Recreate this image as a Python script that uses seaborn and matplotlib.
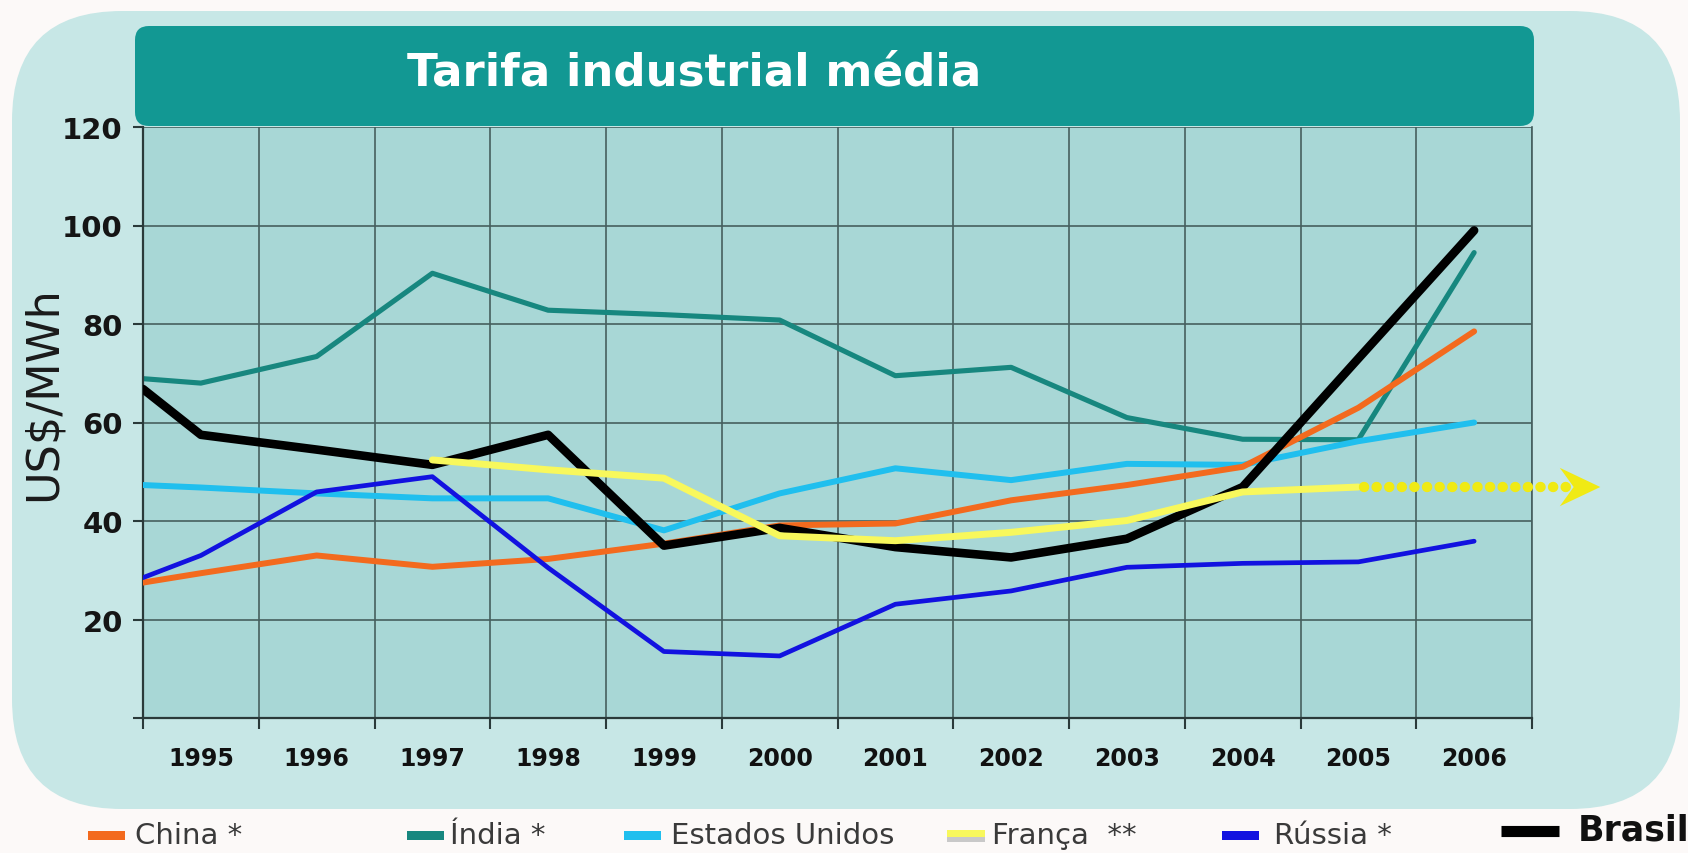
import numpy as np
import pandas as pd
import matplotlib
matplotlib.use("Agg")
import matplotlib.pyplot as plt
import seaborn as sns
from matplotlib.patches import FancyBboxPatch, Rectangle, Polygon

# ---------------- data ----------------
years = ["1995", "1996", "1997", "1998", "1999", "2000",
         "2001", "2002", "2003", "2004", "2005", "2006"]
# first value of each series = value at the left edge of the axis
china  = [27.5, 29.4, 33.0, 30.7, 32.3, 35.4, 39.1, 39.5, 44.2, 47.3, 51.0, 63.0, 78.5]
india  = [68.9, 68.0, 73.4, 90.3, 82.8, 81.9, 80.8, 69.5, 71.2, 61.0, 56.6, 56.5, 94.5]
eua    = [47.3, 46.8, 45.6, 44.6, 44.6, 38.1, 45.6, 50.7, 48.3, 51.6, 51.4, 56.2, 60.0]
franca = [np.nan, np.nan, np.nan, 52.4, 50.4, 48.7, 37.0, 36.0, 37.7, 40.1, 45.9, 46.9, np.nan]
russia = [28.5, 33.0, 45.9, 49.0, 30.5, 13.5, 12.6, 23.1, 25.8, 30.6, 31.4, 31.7, 35.9]
brasil = [66.8, 57.5, 54.5, 51.4, 57.5, 35.0, 38.6, 34.7, 32.6, 36.4, 46.9, 73.0, 99.0]

labels = ["China *", "Índia *", "Estados Unidos", "França  **", "Rússia *", "Brasil"]
yticks = [0, 20, 40, 60, 80, 100, 120]

# ---------------- styling ----------------
W, H = 1688, 854
sns.set_theme(style="white")
plt.rcParams["font.family"] = ["DejaVu Sans"]

fig = plt.figure(figsize=(W / 100, H / 100), dpi=100)
fig.patch.set_facecolor("#fcf9f8")

# background canvas in pixel coordinates
bg = fig.add_axes([0, 0, 1, 1], zorder=0)
bg.set_xlim(0, W)
bg.set_ylim(H, 0)
bg.axis("off")
bg.add_patch(FancyBboxPatch((12, 12), 1668, 798,
                            boxstyle="round,pad=0,rounding_size=110",
                            fc="#c7e7e6", ec="none"))
# title bar
bg.add_patch(FancyBboxPatch((135, 27), 1399, 100,
                            boxstyle="round,pad=0,rounding_size=14",
                            fc="#129893", ec="none"))
bg.text(407, 73, "Tarifa industrial média", color="white", fontsize=32.5,
        fontweight="bold", ha="left", va="center")

# main axes
left, right, top, bottom = 143, 1532, 128, 719
ax = fig.add_axes([left / W, 1 - bottom / H, (right - left) / W, (bottom - top) / H], zorder=2)
ax.set_facecolor("#a8d7d6")

x = np.concatenate([[-0.5], np.arange(len(years))])

series = [
    (india,  "#17877f", 3.7, 2),
    (eua,    "#20bfee", 4.3, 3),
    (china,  "#f36a1e", 4.3, 4),
    (russia, "#1212e0", 3.4, 5),
    (brasil, "#000000", 6.2, 6),
    (franca, "#f8f85c", 5.0, 7),
]
for vals, col, lw, z in series:
    df = pd.DataFrame({"x": x, "valor": vals}).dropna()
    sns.lineplot(data=df, x="x", y="valor", ax=ax, color=col, lw=lw,
                 estimator=None, sort=False, zorder=z)

# dotted continuation arrow for França
last_fr = pd.Series(franca).dropna()
x0 = x[last_fr.index[-1]]
yfr = last_fr.iloc[-1]
ax.plot([x0 + 0.05, 11.8], [yfr, yfr], color="#f0ea14", lw=7.5,
        linestyle=(0, (0.01, 1.2)), dash_capstyle="round",
        clip_on=False, zorder=8)
ax.add_patch(Polygon([[12.09, yfr], [11.74, yfr + 3.9], [11.86, yfr],
                      [11.74, yfr - 3.9]], closed=True, fc="#f0ea14",
                     ec="none", clip_on=False, zorder=8))

ax.set_xlim(-0.5, 11.5)
ax.set_ylim(0, 120)
ax.set_xlabel("")
ax.set_ylabel("")

# grid / ticks
ax.set_xticks(np.arange(-0.5, 12, 1))
ax.set_xticklabels([])
ax.set_xticks(np.arange(len(years)), minor=True)
ax.set_xticklabels(years, minor=True, fontsize=17, fontweight="bold", color="#111111")
ax.tick_params(axis="x", which="major", length=8, width=1.5, color="#2a3a3a",
               direction="out", bottom=True)
ax.tick_params(axis="x", which="minor", length=0, pad=20, bottom=True)
ax.set_yticks(yticks)
ax.set_yticklabels(["" if v == 0 else str(v) for v in yticks], fontsize=21,
                   fontweight="bold", color="#151515")
ax.tick_params(axis="y", length=7.5, width=1.5, color="#2a3a3a", direction="out",
               pad=7, left=True)
ax.grid(True, which="major", color="#465f5f", lw=1.2)
ax.set_axisbelow(True)
for s in ["left", "bottom"]:
    ax.spines[s].set_color("#2a3a3a")
    ax.spines[s].set_linewidth(1.6)
ax.spines["right"].set_color("#465f5f")
ax.spines["right"].set_linewidth(1.2)
ax.spines["top"].set_visible(False)

fig.text(43 / W, 1 - 394 / H, "US$/MWh", rotation=90, fontsize=32,
         color="#1a1a1a", ha="center", va="center")

# legend (custom row at the bottom)
ly = 836
items = [
    (88, 135, "#f36a1e", labels[0]),
    (407, 450, "#17877f", labels[1]),
    (624, 671, "#20bfee", labels[2]),
    (947, 992, "#f8f85c", labels[3]),
    (1222, 1274, "#1212e0", labels[4]),
]
ov = fig.add_axes([0, 0, 1, 1], zorder=3)
ov.set_xlim(0, W)
ov.set_ylim(H, 0)
ov.axis("off")
for px, tx, col, lab in items:
    if col == "#f8f85c":
        ov.add_patch(Rectangle((px, ly + 1), 38, 6, fc="#c9c9c9", ec="none"))
        ov.add_patch(Rectangle((px, ly - 5), 38, 7, fc=col, ec="none"))
    else:
        ov.add_patch(Rectangle((px, ly - 4), 37, 9, fc=col, ec="none"))
    ov.text(tx, ly, lab, fontsize=21, color="#3a3a3a", ha="left", va="center")
ov.plot([1501, 1559], [832, 832], color="black", lw=8, solid_capstyle="butt")
ov.text(1578, 831, labels[5], fontsize=25, fontweight="bold", color="#111111",
        ha="left", va="center")

fig.savefig("out.png", dpi=100, facecolor=fig.get_facecolor())
